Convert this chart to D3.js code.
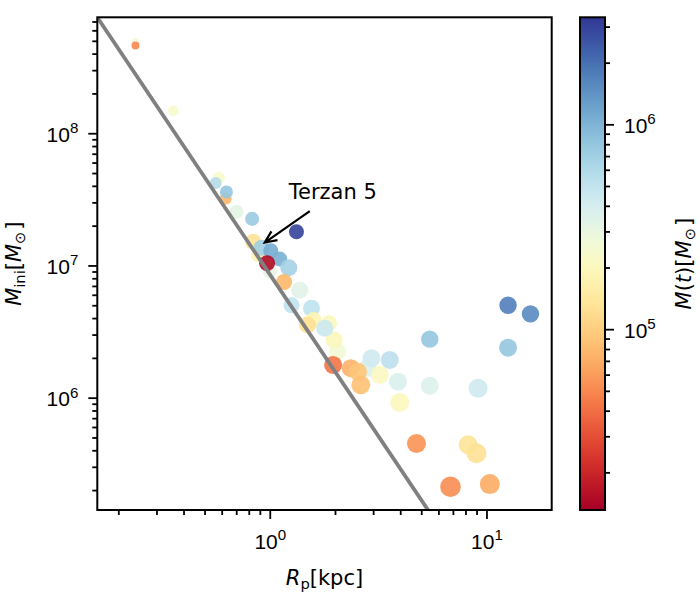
<!DOCTYPE html>
<html>
<head>
<meta charset="utf-8">
<script src="https://cdn.jsdelivr.net/npm/d3@7"></script>
<style>
  body { margin: 0; background: #fff; }
  svg { font-family: "DejaVu Sans", sans-serif; }
</style>
</head>
<body>
<svg id="chart" width="700" height="600"></svg>
<script>
// pericentre radius [kpc]
const rp = [0.240, 0.240, 0.359, 0.583, 0.563, 0.626, 0.631, 0.702, 0.829, 1.328,
  0.838, 0.883, 0.916, 1.011, 1.112, 1.000, 0.972, 1.224, 1.164, 1.375,
  1.259, 1.557, 1.596, 1.878, 1.493, 2.053, 1.980, 1.794, 1.960, 2.833,
  2.365, 2.556, 2.630, 2.946, 3.579, 3.218, 3.909, 3.981, 5.474, 12.58,
  15.96, 12.58, 5.474, 9.147, 4.753, 8.226, 8.993, 6.823, 10.36];
// initial mass [Msun]
const mIni = [5.0e8, 4.6e8, 1.48e8, 4.6e7, 4.2e7, 3.2e7, 3.6e7, 2.55e7, 2.25e7, 1.80e7,
  1.51e7, 1.20e7, 1.36e7, 1.29e7, 1.12e7, 9.0e6, 1.04e7, 9.6e6, 7.5e6, 6.5e6,
  5.0e6, 4.75e6, 3.87e6, 3.65e6, 3.55e6, 2.23e6, 2.73e6, 3.35e6, 1.77e6, 1.68e6,
  1.67e6, 1.57e6, 1.25e6, 1.99e6, 1.93e6, 1.49e6, 1.32e6, 9.2e5, 2.77e6, 5.0e6,
  4.3e6, 2.39e6, 1.23e6, 1.18e6, 4.5e5, 4.4e5, 3.8e5, 2.12e5, 2.22e5];
// present-day mass [Msun]
const mNow = [2.5e5, 5.0e4, 2.3e5, 2.3e5, 5.7e5, 7.7e4, 7.9e5, 3.25e5, 7.5e5, 3.0e6,
  1.27e5, 1.77e5, 7.1e5, 1.1e6, 1.04e6, 3.1e5, 1.47e4, 6.7e5, 7.7e4, 3.4e5,
  5.1e5, 5.1e5, 1.87e5, 2.0e5, 1.27e5, 2.6e5, 2.0e5, 4.5e5, 4.2e4, 3.8e5,
  7.3e4, 9.1e4, 8.6e4, 4.3e5, 5.4e5, 2.1e5, 3.8e5, 2.0e5, 7.9e5, 1.7e6,
  1.53e6, 7.9e5, 3.6e5, 4.3e5, 5.5e4, 1.34e5, 1.27e5, 5.2e4, 6.9e4];
// marker size (area, pt^2)
const markerS = [19, 33, 58, 75, 75, 75, 88, 102, 102, 117,
  133, 102, 133, 117, 117, 102, 133, 150, 133, 150,
  133, 150, 133, 133, 150, 150, 150, 150, 168, 168,
  168, 168, 187, 168, 168, 168, 168, 187, 157, 157,
  157, 168, 168, 187, 187, 187, 207, 220, 207];

// reference power law
const lineR = [0.15, 6];
const lineM = [8.8e8, 1.08e5];

// annotation: label position, arrow start, arrow tip
const annText = 'Terzan 5';
const annLabel = [1.224, 3.2e7];
const annFrom = [1.53, 2.58e7];
const annTip = [0.948, 1.49e7];

const xMajor = [1, 10];
const xMinor = [0.2, 0.3, 0.4, 0.5, 0.6, 0.7, 0.8, 0.9, 2, 3, 4, 5, 6, 7, 8, 9];
const yMajor = [1e6, 1e7, 1e8];
const yMinor = [2e5, 3e5, 4e5, 5e5, 6e5, 7e5, 8e5, 9e5,
  2e6, 3e6, 4e6, 5e6, 6e6, 7e6, 8e6, 9e6,
  2e7, 3e7, 4e7, 5e7, 6e7, 7e7, 8e7, 9e7,
  2e8, 3e8, 4e8, 5e8, 6e8, 7e8];
const cMajor = [1e5, 1e6];
const cMinor = [2e4, 3e4, 4e4, 5e4, 6e4, 7e4, 8e4, 9e4,
  2e5, 3e5, 4e5, 5e5, 6e5, 7e5, 8e5, 9e5, 2e6, 3e6];

const box = { l: 97.3, r: 551.7, t: 17.3, b: 510 };
const cb = { l: 580, r: 605 };
const fs = 21;

const svg = d3.select('#chart');

const x = d3.scaleLog().domain([0.16, 20]).range([box.l, box.r]);
const y = d3.scaleLog().domain([1.414e5, 7.53e8]).range([box.b, box.t]);
const cDomain = [1.31e4, 3.33e6];
const cAxis = d3.scaleLog().domain(cDomain).range([box.b, box.t]);
const color = d3.scaleSequentialLog(d3.interpolateRdYlBu).domain(cDomain);
const rScale = d3.scaleSqrt().domain([0, 220]).range([0, Math.sqrt(220) / 2 * 100 / 72]);

const defs = svg.append('defs');
defs.append('clipPath')
  .attr('id', 'clip')
  .append('rect')
  .attr('x', box.l).attr('y', box.t)
  .attr('width', box.r - box.l).attr('height', box.b - box.t);

const pts = rp.map((d, i) => ({ rp: d, m: mIni[i], mt: mNow[i], s: markerS[i] }));

const plot = svg.append('g').attr('clip-path', 'url(#clip)');

plot.selectAll('circle')
  .data(pts)
  .join('circle')
  .attr('cx', d => x(d.rp))
  .attr('cy', d => y(d.m))
  .attr('r', d => rScale(d.s))
  .attr('fill', d => color(d.mt))
  .attr('fill-opacity', 0.9);

plot.append('path')
  .datum(lineR.map((d, i) => [d, lineM[i]]))
  .attr('d', d3.line().x(d => x(d[0])).y(d => y(d[1])))
  .attr('fill', 'none')
  .attr('stroke', '#808080')
  .attr('stroke-width', 3.8);

// annotation
svg.append('text')
  .attr('x', x(annLabel[0]))
  .attr('y', y(annLabel[1]))
  .attr('font-size', fs)
  .text(annText);

const p0 = [x(annFrom[0]), y(annFrom[1])];
const p1 = [x(annTip[0]), y(annTip[1])];
const ang = Math.atan2(p1[1] - p0[1], p1[0] - p0[0]);
const hl = 13, ha = 0.42;
const h1 = [p1[0] - hl * Math.cos(ang - ha), p1[1] - hl * Math.sin(ang - ha)];
const h2 = [p1[0] - hl * Math.cos(ang + ha), p1[1] - hl * Math.sin(ang + ha)];
svg.append('path')
  .attr('d', `M${p0}L${p1}M${h1}L${p1}L${h2}`)
  .attr('fill', 'none')
  .attr('stroke', '#000')
  .attr('stroke-width', 2.2);

// axes
const supLabel = (sel, anchor) => {
  sel.each(function (d) {
    const t = d3.select(this);
    t.text(null).attr('text-anchor', anchor).attr('font-size', fs).attr('fill', '#000');
    t.append('tspan').text('10');
    t.append('tspan').attr('font-size', fs * 0.72).attr('dy', -8.5).text(Math.round(Math.log10(d)));
  });
};

const styleTicks = g => {
  g.select('.domain').remove();
  g.selectAll('line').attr('stroke', '#000').attr('stroke-width', 1.8);
};

svg.append('g')
  .attr('transform', `translate(0,${box.b})`)
  .call(d3.axisBottom(x).tickValues(xMinor).tickSize(5).tickFormat(''))
  .call(styleTicks);
svg.append('g')
  .attr('transform', `translate(0,${box.b})`)
  .call(d3.axisBottom(x).tickValues(xMajor).tickSize(9).tickPadding(15))
  .call(styleTicks)
  .call(g => g.selectAll('text').call(supLabel, 'middle'));

svg.append('g')
  .attr('transform', `translate(${box.l},0)`)
  .call(d3.axisLeft(y).tickValues(yMinor).tickSize(5).tickFormat(''))
  .call(styleTicks);
svg.append('g')
  .attr('transform', `translate(${box.l},0)`)
  .call(d3.axisLeft(y).tickValues(yMajor).tickSize(9).tickPadding(10))
  .call(styleTicks)
  .call(g => g.selectAll('text').attr('dy', 8).call(supLabel, 'end'));

// frame
svg.append('rect')
  .attr('x', box.l).attr('y', box.t)
  .attr('width', box.r - box.l).attr('height', box.b - box.t)
  .attr('fill', 'none').attr('stroke', '#000').attr('stroke-width', 2);

// axis labels
svg.append('text')
  .attr('x', (box.l + box.r) / 2)
  .attr('y', 585)
  .attr('text-anchor', 'middle')
  .attr('font-size', fs)
  .call(t => {
    t.append('tspan').attr('font-style', 'italic').text('R');
    t.append('tspan').attr('font-size', fs * 0.7).attr('dy', 4).text('p');
    t.append('tspan').attr('dy', -4).text('[kpc]');
  });

svg.append('text')
  .attr('transform', `translate(21,${(box.t + box.b) / 2}) rotate(-90)`)
  .attr('text-anchor', 'middle')
  .attr('font-size', fs)
  .call(t => {
    t.append('tspan').attr('font-style', 'italic').text('M');
    t.append('tspan').attr('font-size', fs * 0.7).attr('dy', 4).text('ini');
    t.append('tspan').attr('dy', -4).text('[');
    t.append('tspan').attr('font-style', 'italic').text('M');
    t.append('tspan').attr('font-size', fs * 0.7).attr('dy', 4).text('\u2299');
    t.append('tspan').attr('dy', -4).attr('dx', 2).text(']');
  });

// colorbar
const grad = defs.append('linearGradient')
  .attr('id', 'cbar')
  .attr('x1', 0).attr('y1', 1).attr('x2', 0).attr('y2', 0);
grad.selectAll('stop')
  .data(d3.range(0, 1.0001, 0.02))
  .join('stop')
  .attr('offset', d => d)
  .attr('stop-color', d => d3.interpolateRdYlBu(d));

svg.append('rect')
  .attr('x', cb.l).attr('y', box.t)
  .attr('width', cb.r - cb.l).attr('height', box.b - box.t)
  .attr('fill', 'url(#cbar)');

svg.append('g')
  .attr('transform', `translate(${cb.r},0)`)
  .call(d3.axisRight(cAxis).tickValues(cMinor).tickSize(5).tickFormat(''))
  .call(styleTicks);
svg.append('g')
  .attr('transform', `translate(${cb.r},0)`)
  .call(d3.axisRight(cAxis).tickValues(cMajor).tickSize(9).tickPadding(10))
  .call(styleTicks)
  .call(g => g.selectAll('text').attr('dy', 8).call(supLabel, 'start'));

svg.append('rect')
  .attr('x', cb.l).attr('y', box.t)
  .attr('width', cb.r - cb.l).attr('height', box.b - box.t)
  .attr('fill', 'none').attr('stroke', '#000').attr('stroke-width', 2);

svg.append('text')
  .attr('transform', `translate(691,${(box.t + box.b) / 2}) rotate(-90)`)
  .attr('text-anchor', 'middle')
  .attr('font-size', fs)
  .call(t => {
    t.append('tspan').attr('font-style', 'italic').text('M');
    t.append('tspan').text('(');
    t.append('tspan').attr('font-style', 'italic').text('t');
    t.append('tspan').text(')[');
    t.append('tspan').attr('font-style', 'italic').text('M');
    t.append('tspan').attr('font-size', fs * 0.7).attr('dy', 4).text('\u2299');
    t.append('tspan').attr('dy', -4).attr('dx', 2).text(']');
  });
</script>
</body>
</html>
